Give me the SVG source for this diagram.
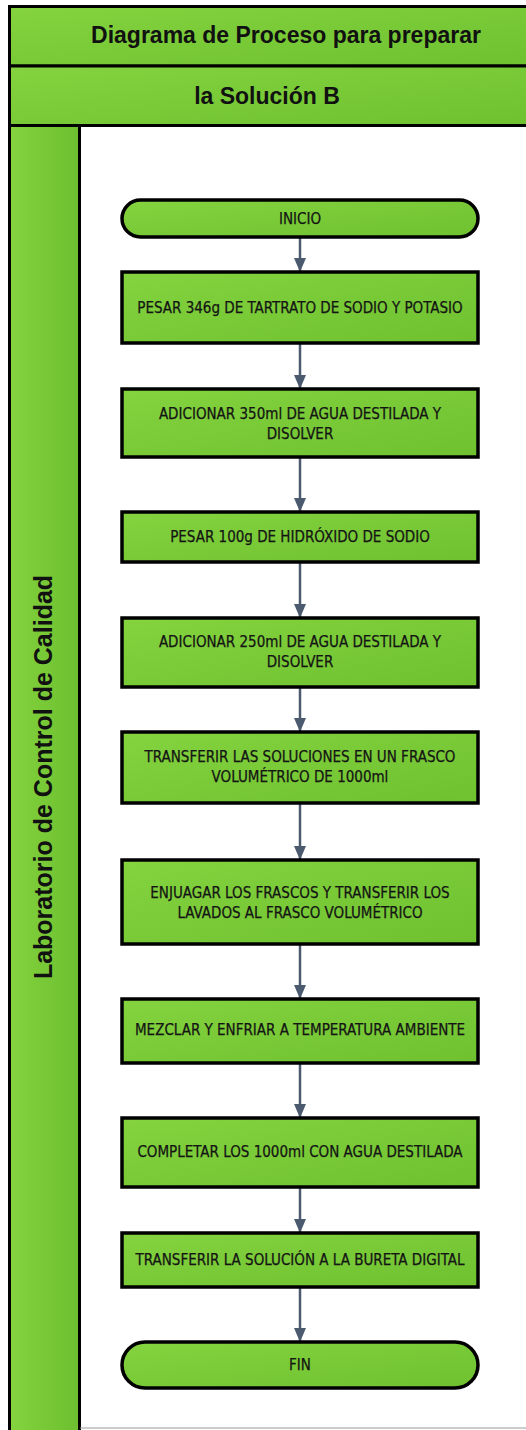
<svg xmlns="http://www.w3.org/2000/svg" width="526" height="1430" viewBox="0 0 526 1430">
<defs>
<linearGradient id="g" x1="0" y1="0" x2="1" y2="1">
<stop offset="0" stop-color="#84d33f"/>
<stop offset="1" stop-color="#6fc130"/>
</linearGradient>
<linearGradient id="gl" x1="0" y1="0" x2="1" y2="0">
<stop offset="0" stop-color="#84d33f"/>
<stop offset="1" stop-color="#6dbf2f"/>
</linearGradient>
<marker id="ah" markerWidth="14" markerHeight="12" refX="14" refY="6" orient="auto" markerUnits="userSpaceOnUse">
<path d="M0,0 L14,6 L0,12 Z" fill="#4b5a6e"/>
</marker>
<style>
.box{fill:url(#g);stroke:#000;stroke-width:3.5}
.hdr{fill:url(#g);stroke:#000;stroke-width:3}
.ht{font-family:"Liberation Sans",Arial,sans-serif;font-weight:bold;font-size:23px;fill:#111;text-anchor:middle}
.nt{font-family:"DejaVu Sans Condensed","DejaVu Sans",sans-serif;font-size:15px;fill:#141414;stroke:#141414;stroke-width:0.25;text-anchor:middle}
.cn{stroke:#4b5a6e;stroke-width:2.5;fill:none;marker-end:url(#ah)}
</style>
</defs>
<rect x="0" y="0" width="526" height="1430" fill="#fff"/>
<g id="header">
<rect class="hdr" x="9.5" y="6.5" width="530" height="59.5"/>
<text class="ht" x="286" y="43">Diagrama de Proceso para preparar</text>
<rect class="hdr" x="9.5" y="66" width="530" height="59.5"/>
<text class="ht" x="267" y="104">la Solución B</text>
</g>
<g id="lane">
<rect x="9.5" y="125.5" width="70" height="1310" fill="url(#gl)" stroke="#000" stroke-width="3"/>
<text class="ht" style="font-size:25px" transform="translate(52,777) rotate(-90)">Laboratorio de Control de Calidad</text>
<line x1="80" y1="1428" x2="526" y2="1428" stroke="#999" stroke-width="1"/>
</g>
<g id="connectors">
<line class="cn" x1="300" y1="238" x2="300" y2="272"/>
<line class="cn" x1="300" y1="344" x2="300" y2="389"/>
<line class="cn" x1="300" y1="457" x2="300" y2="512"/>
<line class="cn" x1="300" y1="562" x2="300" y2="618"/>
<line class="cn" x1="300" y1="687" x2="300" y2="732"/>
<line class="cn" x1="300" y1="803" x2="300" y2="860"/>
<line class="cn" x1="300" y1="944" x2="300" y2="999"/>
<line class="cn" x1="300" y1="1063" x2="300" y2="1118"/>
<line class="cn" x1="300" y1="1187" x2="300" y2="1233"/>
<line class="cn" x1="300" y1="1287" x2="300" y2="1342"/>
</g>
<g id="n-inicio">
<rect class="box" x="122" y="200" width="356" height="37" rx="18.5"/>
<text class="nt" x="300" y="224">INICIO</text>
</g>
<g id="n-pesar346">
<rect class="box" x="122" y="272" width="356" height="71"/>
<text class="nt" x="300" y="313">PESAR 346g DE TARTRATO DE SODIO Y POTASIO</text>
</g>
<g id="n-adic350">
<rect class="box" x="122" y="389" width="356" height="68"/>
<text class="nt" x="300" y="419">ADICIONAR 350ml DE AGUA DESTILADA Y</text>
<text class="nt" x="300" y="439">DISOLVER</text>
</g>
<g id="n-pesar100">
<rect class="box" x="122" y="512" width="356" height="50"/>
<text class="nt" x="300" y="542">PESAR 100g DE HIDRÓXIDO DE SODIO</text>
</g>
<g id="n-adic250">
<rect class="box" x="122" y="618" width="356" height="69"/>
<text class="nt" x="300" y="647">ADICIONAR 250ml DE AGUA DESTILADA Y</text>
<text class="nt" x="300" y="667">DISOLVER</text>
</g>
<g id="n-transf1">
<rect class="box" x="122" y="732" width="356" height="71"/>
<text class="nt" x="300" y="762">TRANSFERIR LAS SOLUCIONES EN UN FRASCO</text>
<text class="nt" x="300" y="782">VOLUMÉTRICO DE 1000ml</text>
</g>
<g id="n-enjuagar">
<rect class="box" x="122" y="860" width="356" height="84"/>
<text class="nt" x="300" y="898">ENJUAGAR LOS FRASCOS Y TRANSFERIR LOS</text>
<text class="nt" x="300" y="918">LAVADOS AL FRASCO VOLUMÉTRICO</text>
</g>
<g id="n-mezclar">
<rect class="box" x="122" y="999" width="356" height="64"/>
<text class="nt" x="300" y="1035">MEZCLAR Y ENFRIAR A TEMPERATURA AMBIENTE</text>
</g>
<g id="n-completar">
<rect class="box" x="122" y="1118" width="356" height="69"/>
<text class="nt" x="300" y="1157">COMPLETAR LOS 1000ml CON AGUA DESTILADA</text>
</g>
<g id="n-transf2">
<rect class="box" x="122" y="1233" width="356" height="54"/>
<text class="nt" x="300" y="1265">TRANSFERIR LA SOLUCIÓN A LA BURETA DIGITAL</text>
</g>
<g id="n-fin">
<rect class="box" x="122" y="1342" width="356" height="46" rx="23"/>
<text class="nt" x="300" y="1370">FIN</text>
</g>
</svg>
